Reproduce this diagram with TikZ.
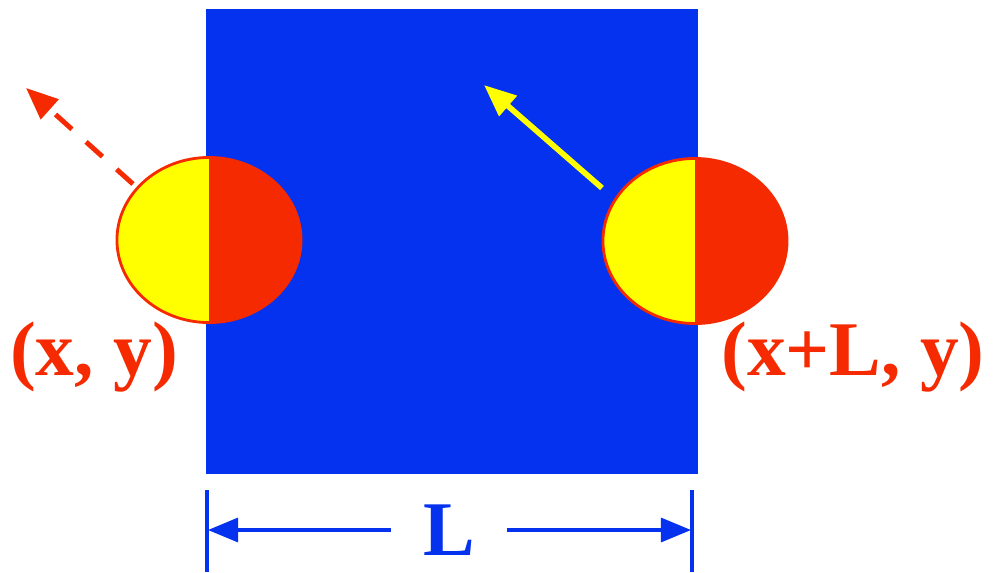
\documentclass[tikz,border=0pt]{standalone}
\usepackage{fontspec}
\setmainfont{Liberation Serif}
\usetikzlibrary{arrows.meta, shapes.geometric, positioning}
\definecolor{sqblue}{HTML}{0532EE}
\definecolor{ballred}{HTML}{F52A00}
\definecolor{ballyellow}{HTML}{FFFF00}
\tikzset{
  % quadrato di lato L
  plate/.style={fill=sqblue, inner sep=0pt, minimum width=4.92cm, minimum height=4.65cm},
  % particella: meta gialla, meta rossa
  ball/.style={ellipse, draw=ballred, line width=0.8pt, fill=ballyellow,
    minimum width=1.84cm, minimum height=1.65cm, inner sep=0pt,
    path picture={\fill[ballred] (path picture bounding box.north)
      rectangle (path picture bounding box.south east);}},
  % frecce di velocita
  vel/.style={-{Triangle[length=3.2mm, width=2.6mm]}, line width=1.6pt, ballyellow},
  veldash/.style={-{Triangle[length=3.2mm, width=2.6mm]}, line width=1.4pt, ballred,
    dash pattern=on 2.2mm off 1.9mm},
  % quota
  dimarrow/.style={-{Triangle[length=3mm, width=2.4mm]}, line width=0.9pt, sqblue},
  dimtick/.style={line width=1.1pt, sqblue},
  % etichette
  poslbl/.style={font=\fontsize{22}{24}\selectfont\bfseries, text=ballred, inner sep=0pt},
  dimlbl/.style={font=\fontsize{22}{24}\selectfont\bfseries, text=sqblue, inner xsep=9pt, inner ysep=0pt},
}

\begin{document}
\begin{tikzpicture}[x=0.01cm, y=-0.01cm]
  \useasboundingbox (0,0) rectangle (993,572);
  \node[plate, anchor=north west] (sq) at (205,8) {};
  \node[ball] (b1) at (209,240) {};
  \node[ball] (b2) at (695,241) {};
  % frecce
  \coordinate (t1) at (133,184);
  \coordinate (h1) at (26,88);
  \coordinate (t2) at (602,188);
  \coordinate (h2) at (484,85);
  \draw[veldash] (t1) -- (h1);
  \draw[vel] (t2) -- (h2);
  \node[poslbl] (p1) at (94,357) {(x, y)};
  \node[poslbl] (p2) at (853,357) {(x+L, y)};
  % quota L
  \coordinate (k1a) at (207,490);
  \coordinate (k1b) at (207,572);
  \coordinate (k2a) at (692,490);
  \coordinate (k2b) at (692,572);
  \draw[dimtick] (k1a) -- (k1b);
  \draw[dimtick] (k2a) -- (k2b);
  \coordinate (d1) at (208,530);
  \coordinate (d2) at (691,530);
  \node[dimlbl] (len) at (449,530) {L};
  \draw[dimarrow] (len) -- (d1);
  \draw[dimarrow] (len) -- (d2);
\end{tikzpicture}
\end{document}
